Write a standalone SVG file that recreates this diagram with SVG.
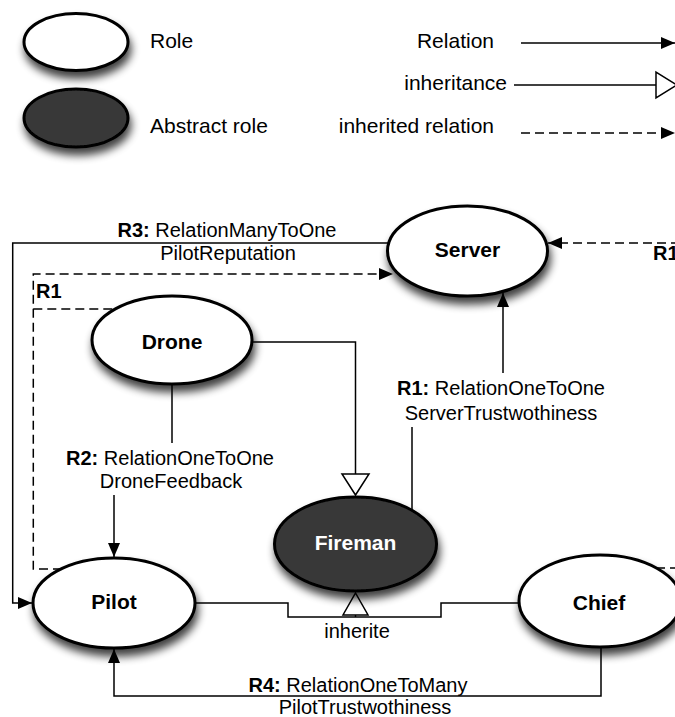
<svg xmlns="http://www.w3.org/2000/svg" width="675" height="717" viewBox="0 0 675 717">
<style>
text{font-family:"Liberation Sans",Arial,sans-serif;fill:#000}
.lg{font-size:21px}
.nl{font-size:21px;font-weight:bold;text-anchor:middle}
.el{font-size:20px;text-anchor:middle}
.tag{font-size:20px;font-weight:bold;text-anchor:start}
.b{font-weight:bold}
.role{fill:#fff;stroke:#000;stroke-width:3}
.abs{fill:#383838;stroke:#000;stroke-width:3}
.ln{fill:none;stroke:#000;stroke-width:1.5}
.dl{fill:none;stroke:#000;stroke-width:1.5;stroke-dasharray:9 5}
.tri{fill:#fff;stroke:#000;stroke-width:1.5}
</style>
<defs>
<filter id="sh" x="-30%" y="-30%" width="160%" height="180%">
<feGaussianBlur in="SourceAlpha" stdDeviation="4"/>
<feOffset dx="2" dy="7" result="o"/>
<feComponentTransfer><feFuncA type="linear" slope="0.75"/></feComponentTransfer>
<feMerge><feMergeNode/><feMergeNode in="SourceGraphic"/></feMerge>
</filter>
<marker id="ah" viewBox="0 0 14 12" refX="14" refY="6" markerWidth="14" markerHeight="12" markerUnits="userSpaceOnUse" orient="auto">
<path d="M0,0 L14,6 L0,12 Z" fill="#000"/>
</marker>
</defs>

<g id="legend">
<ellipse class="role" cx="76" cy="42" rx="52" ry="28.5" filter="url(#sh)"/>
<text class="lg" x="150" y="48">Role</text>
<ellipse class="abs" cx="76" cy="118" rx="52" ry="29" stroke-width="2" filter="url(#sh)"/>
<text class="lg" x="150" y="133">Abstract role</text>
<text class="lg" x="494" y="48" text-anchor="end">Relation</text>
<line class="ln" x1="521" y1="43" x2="675" y2="43" marker-end="url(#ah)"/>
<text class="lg" x="507" y="90" text-anchor="end">inheritance</text>
<line class="ln" x1="514" y1="85" x2="656" y2="85"/>
<polygon class="tri" points="656,72 656,98 677,85"/>
<text class="lg" x="494" y="133" text-anchor="end">inherited relation</text>
<line class="dl" x1="521" y1="133" x2="675" y2="133" marker-end="url(#ah)"/>
</g>

<g id="connectors">
<!-- R3 Server -> Pilot -->
<polyline class="ln" points="388,243 12.7,243 12.7,603 32,603" marker-end="url(#ah)"/>
<!-- R1 inherited (left) Pilot/Drone -> Server -->
<polyline class="dl" points="62,569 33.3,569 33.3,274 393,274" marker-end="url(#ah)"/>
<line class="dl" x1="33.3" y1="309" x2="118" y2="309"/>
<!-- R1 inherited (right) Chief -> Server -->
<line class="dl" x1="656" y1="568" x2="680" y2="568"/>
<line class="dl" x1="680" y1="243" x2="548" y2="243" marker-end="url(#ah)"/>
<!-- Drone inherits Fireman -->
<polyline class="ln" points="253,342 355.5,342 355.5,474"/>
<polygon class="tri" points="342,474 369,474 355.5,495"/>
<!-- R1 Fireman -> Server -->
<line class="ln" x1="412" y1="510" x2="412" y2="427"/>
<line class="ln" x1="503" y1="373" x2="503" y2="293" marker-end="url(#ah)"/>
<!-- R2 Drone -> Pilot -->
<line class="ln" x1="172" y1="385" x2="172" y2="443"/>
<line class="ln" x1="114" y1="495" x2="114" y2="557" marker-end="url(#ah)"/>
<!-- Pilot / Chief inherit Fireman -->
<polyline class="ln" points="196,603 288,603 288,617 441,617 441,603 519,603"/>
<line class="ln" x1="355.5" y1="617" x2="355.5" y2="615"/>
<polygon class="tri" points="343,615 368,615 355.5,593"/>
<!-- R4 Chief -> Pilot -->
<polyline class="ln" points="601,647 601,696 114,696 114,649" marker-end="url(#ah)"/>
</g>

<g id="labels">
<text class="el" x="227" y="237"><tspan class="b">R3:</tspan> RelationManyToOne</text>
<text class="el" x="228" y="260">PilotReputation</text>
<text class="tag" x="36" y="298">R1</text>
<text class="tag" x="653" y="260">R1</text>
<text class="el" x="501" y="395"><tspan class="b">R1:</tspan> RelationOneToOne</text>
<text class="el" x="501" y="420">ServerTrustwothiness</text>
<text class="el" x="170" y="465"><tspan class="b">R2:</tspan> RelationOneToOne</text>
<text class="el" x="171" y="488">DroneFeedback</text>
<text class="el" x="357" y="638">inherite</text>
<text class="el" x="358" y="692"><tspan class="b">R4:</tspan> RelationOneToMany</text>
<text class="el" x="365" y="714">PilotTrustwothiness</text>
</g>

<g id="server">
<ellipse class="role" cx="467.5" cy="251" rx="80" ry="45" filter="url(#sh)"/>
<text class="nl" x="467.5" y="257">Server</text>
</g>
<g id="drone">
<ellipse class="role" cx="172" cy="340" rx="80" ry="44" filter="url(#sh)"/>
<text class="nl" x="172" y="349">Drone</text>
</g>
<g id="fireman">
<ellipse class="abs" cx="355.5" cy="544" rx="81" ry="47" filter="url(#sh)"/>
<text class="nl" x="355.5" y="550" style="fill:#fff">Fireman</text>
</g>
<g id="pilot">
<ellipse class="role" cx="114" cy="603" rx="81" ry="45" filter="url(#sh)"/>
<text class="nl" x="114" y="609">Pilot</text>
</g>
<g id="chief">
<ellipse class="role" cx="600" cy="601" rx="81" ry="46" filter="url(#sh)"/>
<text class="nl" x="599" y="610">Chief</text>
</g>
</svg>
